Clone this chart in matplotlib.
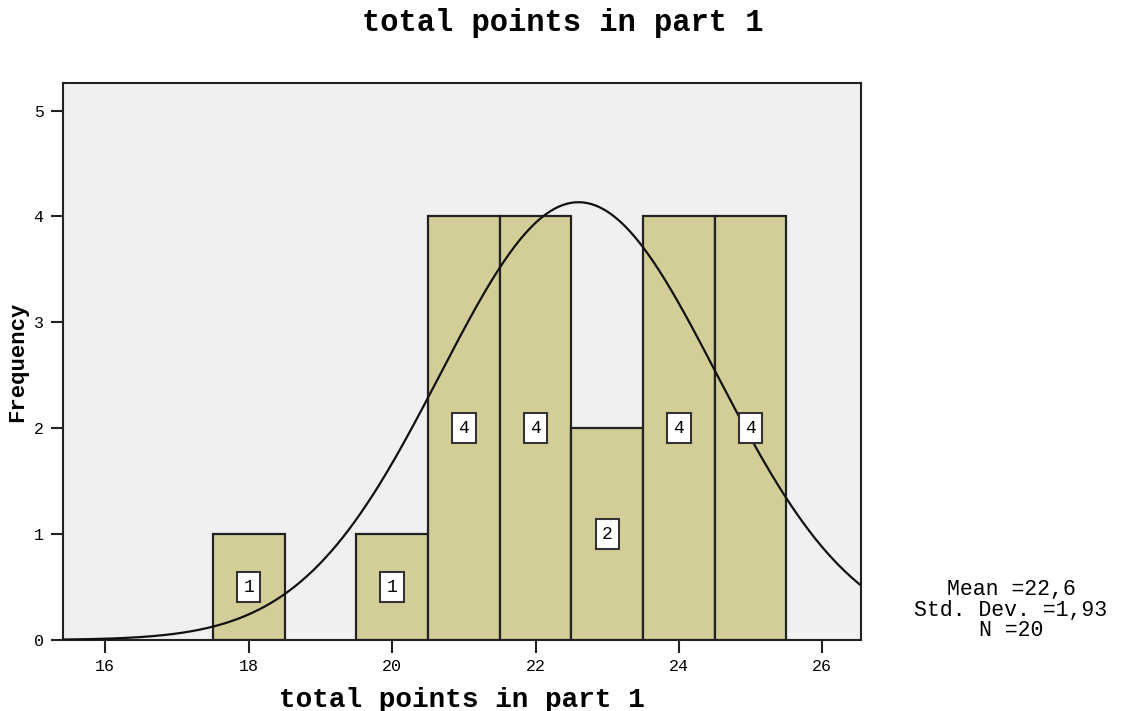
import numpy as np
import matplotlib
matplotlib.use("Agg")
import matplotlib.pyplot as plt

# histogram data (score -> frequency)
scores = [18, 20, 21, 22, 23, 24, 25]
counts = [1, 1, 4, 4, 2, 4, 4]
mean_val = 22.6
sd_val = 1.93
n_total = 20

title = "total points in part 1"
xlabel = "total points in part 1"
ylabel = "Frequency"

mono = "Liberation Mono"
bar_color = "#d3ce97"
bg_color = "#f0f0f0"

fig = plt.figure(figsize=(11.27, 7.11), dpi=100)
ax = fig.add_axes([0.0559, 0.0999, 0.7081, 0.7834])
ax.set_facecolor(bg_color)

ax.bar(scores, counts, width=1.0, color=bar_color, edgecolor="#222222",
       linewidth=1.6, zorder=2)

for x, c in zip(scores, counts):
    ax.text(x, c / 2, str(c), family=mono, fontsize=13, ha="center",
            va="center", zorder=4,
            bbox=dict(boxstyle="square,pad=0.35", fc="white", ec="#333333", lw=1.5))

# fitted normal curve
xs = np.linspace(15.41, 26.54, 400)
ys = n_total * 1.0 / (sd_val * np.sqrt(2 * np.pi)) * np.exp(-0.5 * ((xs - mean_val) / sd_val) ** 2)
ax.plot(xs, ys, color="#111111", lw=1.6, zorder=3)

ax.set_xlim(15.41, 26.54)
ax.set_ylim(0, 5.26)
ax.set_xticks([16, 18, 20, 22, 24, 26])
ax.set_yticks([0, 1, 2, 3, 4, 5])
ax.tick_params(direction="out", length=9, width=1.5, color="#222222",
               labelsize=12, pad=5)
for lab in ax.get_xticklabels() + ax.get_yticklabels():
    lab.set_family(mono)
for sp in ax.spines.values():
    sp.set_linewidth(1.5)
    sp.set_color("#222222")

ax.set_xlabel(xlabel, family=mono, fontsize=20, fontweight="bold", labelpad=9)
ax.set_ylabel(ylabel, family=mono, fontsize=16, fontweight="bold", labelpad=4)
fig.text(0.4995, 0.968, title, family=mono, fontsize=22, fontweight="bold",
         ha="center", va="center")

stats = "Mean ={}\nStd. Dev. ={}\nN ={}".format(
    f"{mean_val:.1f}".replace(".", ","), f"{sd_val:.2f}".replace(".", ","), n_total)
fig.text(0.897, 0.142, stats, family=mono, fontsize=15.5, ha="center",
         va="center", linespacing=0.95)

fig.savefig("out.png", dpi=100)
